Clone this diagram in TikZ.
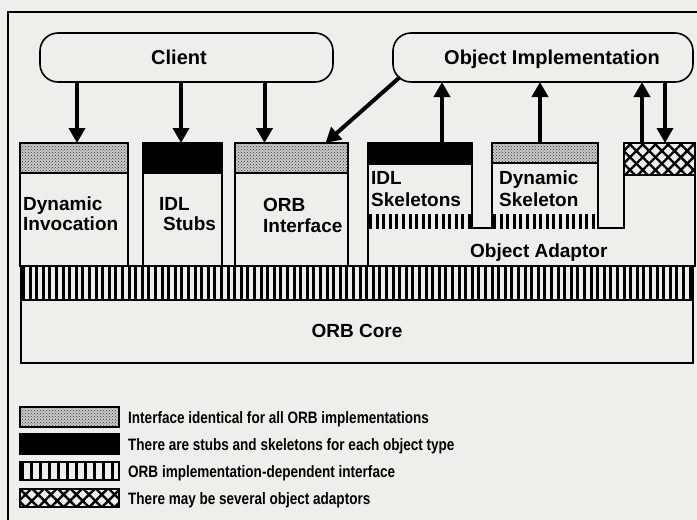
\documentclass[tikz,border=0pt]{standalone}
\usepackage{fontspec}
\setmainfont{Liberation Sans}
\newfontfamily\legfont{Liberation Sans}[FakeStretch=0.82]
\usetikzlibrary{arrows.meta,patterns,patterns.meta,calc}
\definecolor{bgc}{RGB}{238,238,236}
\begin{document}
\begin{tikzpicture}[x=1pt,y=-1pt,
  ln/.style={line width=1.6pt},
  box/.style={draw, ln, fill=bgc, rectangle, inner sep=0pt, outer sep=0pt, anchor=north west},
  area/.style={rectangle, inner sep=0pt, outer sep=0pt, anchor=north west},
  lbl/.style={font=\bfseries\fontsize{19}{20}\selectfont, inner sep=0pt, anchor=base west},
  toplbl/.style={font=\bfseries\fontsize{20}{22}\selectfont, inner sep=0pt, anchor=base},
  leg/.style={font=\legfont\bfseries\fontsize{16.5}{18}\selectfont, inner sep=0pt, anchor=base west},
  pill/.style={draw, ln, fill=bgc, rounded corners=18pt, inner sep=0pt, outer sep=0pt, minimum height=49pt},
  arr/.style={line width=4pt, -{Triangle[width=16pt,length=15pt]}},
  stipple/.style={preaction={fill=gray!42}, pattern=crosshatch dots, pattern color=black!80},
  xhatch/.style={preaction={fill=bgc}, preaction={pattern={Lines[angle=45,distance=9pt,line width=2.4pt]}}, pattern={Lines[angle=-45,distance=9pt,line width=2.4pt]}},
  vstripes/.style 2 args={path picture={\foreach \k in {0,...,#2}{\fill ([xshift=\k*#1+1pt]path picture bounding box.north west) rectangle ++(3,100);}}}
]
\useasboundingbox (0,0) rectangle (697,520);
\fill[bgc] (0,0) rectangle (697,520);
\clip (0,0) rectangle (697,520);
\draw[ln] (8,12) rectangle (720,540);

% top pills
\node[pill, minimum width=293pt] (client) at (186.5,57.5) {};
\node[toplbl] (clientlbl) at (179,64) {Client};
\node[pill, minimum width=300pt] (objimpl) at (543,57.5) {};
\node[toplbl] (objimpllbl) at (552,64) {Object Implementation};

% client side boxes
\node[box, minimum width=108pt, minimum height=123pt] (dyninv) at (20,143) {};
\draw[ln, stipple] (dyninv.north west) rectangle ++(108,30);
\node[box, minimum width=79pt, minimum height=123pt] (idlstub) at (143,143) {};
\draw[ln, fill=black] (idlstub.north west) rectangle ++(79,30);
\node[box, minimum width=113pt, minimum height=123pt] (orbint) at (235,143) {};
\draw[ln, stipple] (orbint.north west) rectangle ++(113,30);

\node[lbl] (dyninvA) at (23,210) {Dynamic};
\node[lbl] (dyninvB) at (23,230) {Invocation};
\node[lbl] (idlstubA) at (159,210) {IDL};
\node[lbl] (idlstubB) at (163,230) {Stubs};
\node[lbl] (orbintA) at (263,211) {ORB};
\node[lbl] (orbintB) at (263,232) {Interface};

% band and core
\node[area, draw, ln, vstripes={6.6pt}{105}, minimum width=672pt, minimum height=34pt] (band) at (21,266) {};
\node[box, minimum width=672pt, minimum height=63pt] (core) at (21,300) {};
\node[lbl, anchor=base] (corelbl) at (357,337) {ORB Core};

% object adaptor
\node[area, minimum width=104pt, minimum height=85pt] (idlskel) at (368,143) {};
\node[area, minimum width=106pt, minimum height=85pt] (dynskel) at (492,143) {};
\node[area, minimum width=71pt, minimum height=32pt] (extra) at (624,143) {};
\node[area, minimum width=327pt, minimum height=38pt] (oa) at (368,228) {};
\fill[bgc] (idlskel.north west) -- (idlskel.north east) -- (idlskel.south east) -- (dynskel.south west) -- (dynskel.north west) -- (dynskel.north east) -- (dynskel.south east) -- (extra.south west |- dynskel.south east) -- (extra.north west) -- (extra.north east) -- (oa.south east) -- (oa.south west) -- cycle;
\draw[ln, fill=black] (idlskel.north west) rectangle ++(104,21);
\draw[ln, stipple] (dynskel.north west) rectangle ++(106,20);
\draw[ln, xhatch] (extra.north west) rectangle (extra.south east);
\path[vstripes={6.6pt}{16}] (idlskel.south west) rectangle ++(104,-14);
\path[vstripes={6.6pt}{16}] (dynskel.south west) rectangle ++(106,-14);
\draw[ln] (idlskel.north west) -- (idlskel.north east) -- (idlskel.south east) -- (dynskel.south west) -- (dynskel.north west) -- (dynskel.north east) -- (dynskel.south east) -- (extra.south west |- dynskel.south east) -- (extra.north west) -- (extra.north east) -- (oa.south east) -- (oa.south west) -- cycle;

\node[lbl] (idlskelA) at (371,184) {IDL};
\node[lbl] (idlskelB) at (371,206) {Skeletons};
\node[lbl] (dynskelA) at (499,184) {Dynamic};
\node[lbl] (dynskelB) at (499,206) {Skeleton};
\node[lbl] (oalbl) at (470,257) {Object Adaptor};

% arrows
\coordinate (a1) at ([xshift=3pt]dyninv.north);
\coordinate (a2) at ([xshift=-1.5pt]idlstub.north);
\coordinate (a3) at ([xshift=-27pt]orbint.north);
\draw[arr] (client.south -| a1) -- (a1);
\draw[arr] (client.south -| a2) -- (a2);
\draw[arr] (client.south -| a3) -- (a3);
\coordinate (a4s) at ([xshift=7pt,yshift=5pt]objimpl.south west);
\coordinate (a4e) at ([xshift=34pt]orbint.north);
\draw[arr] (a4s) -- (a4e);
\coordinate (b1) at ([xshift=22pt]idlskel.north);
\coordinate (b2) at ([xshift=-5pt]dynskel.north);
\coordinate (b3) at ([xshift=-17.5pt]extra.north);
\coordinate (b4) at ([xshift=5.5pt]extra.north);
\draw[arr] (b1) -- (objimpl.south -| b1);
\draw[arr] (b2) -- (objimpl.south -| b2);
\draw[arr] (b3) -- (objimpl.south -| b3);
\draw[arr] (objimpl.south -| b4) -- (b4);

% legend
\node[area, draw, ln, stipple, minimum width=99pt, minimum height=20pt] (sw1) at (20,407) {};
\node[area, draw, ln, fill=black, minimum width=99pt, minimum height=20pt] (sw2) at (20,434) {};
\node[area, draw, ln, vstripes={9pt}{12}, minimum width=99pt, minimum height=18pt] (sw3) at (20,462) {};
\node[area, draw, ln, xhatch, minimum width=99pt, minimum height=18pt] (sw4) at (20,489) {};
\node[leg] (lg1) at (128,423) {Interface identical for all ORB implementations};
\node[leg] (lg2) at (128,450) {There are stubs and skeletons for each object type};
\node[leg] (lg3) at (128,477) {ORB implementation-dependent interface};
\node[leg] (lg4) at (128,504) {There may be several object adaptors};
\end{tikzpicture}
\end{document}
